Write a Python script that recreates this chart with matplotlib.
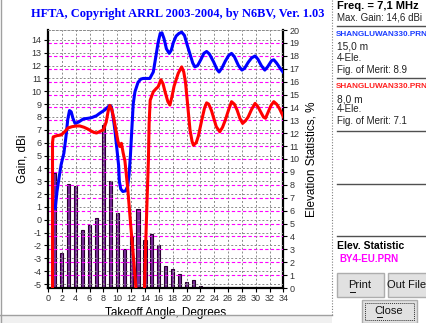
import matplotlib
matplotlib.use("Agg")
import matplotlib.pyplot as plt
from matplotlib.patches import Rectangle
from matplotlib.lines import Line2D

W, H = 427, 323

# elevation statistics, % of openings per takeoff degree
STAT_DEG = list(range(1, 24))
STAT_PCT = [8.9, 2.7, 8.1, 7.9, 4.5, 4.9, 5.4, 12.6, 8.3, 5.8, 3.0, 4.05,
            6.1, 3.7, 4.2, 3.3, 1.7, 1.45, 1.1, 0.45, 0.6, 0.15, 0.08]

# 15 m, 4-Ele. pattern (blue)
BLUE_DEG = [1.05, 1.3, 1.6, 1.9, 2.3, 2.6, 2.85, 3.1, 3.35, 3.6, 3.9, 4.4,
            5.1, 5.8, 6.3, 7.0, 7.5, 8.2, 8.9, 9.15, 9.4, 9.65, 9.95, 10.2,
            10.3, 10.5, 10.8, 11.2, 11.5, 11.7, 11.9, 12.1, 12.3, 12.55,
            13.0, 13.4, 13.75, 14.3, 14.7, 15.2, 15.6, 15.9, 16.2, 16.45,
            16.75, 17.1, 17.5, 17.8, 18.1, 18.5, 18.9, 19.3, 19.7, 20.1,
            20.5, 20.9, 21.2, 21.6, 22.1, 22.5, 22.9, 23.3, 23.9, 24.4,
            24.7, 25.1, 25.6, 26.1, 26.5, 26.9, 27.5, 28.0, 28.4, 28.9,
            29.4, 29.9, 30.3, 30.8, 31.3, 31.7, 32.3, 32.6, 33.0, 33.5, 34.0]
BLUE_GAIN = [0.9, 2.2, 3.3, 4.3, 5.2, 6.5, 7.8, 8.5, 8.4, 7.9, 7.5, 7.6,
             7.85, 7.9, 7.95, 8.1, 8.3, 8.55, 8.9, 8.8, 8.0, 7.0, 5.5, 4.2,
             3.0, 2.4, 2.2, 2.25, 2.6, 3.5, 5.0, 7.0, 9.0, 9.96,
             10.7, 10.95, 11.0, 11.0, 11.0, 11.5, 12.8, 13.8, 14.5, 14.55,
             14.1, 13.3, 12.95, 13.2, 13.8, 14.3, 14.5, 14.6, 14.35, 13.6,
             12.9, 12.2, 11.9, 12.0, 12.5, 12.95, 13.1, 12.9, 12.3, 11.7,
             11.5, 11.8, 12.35, 12.8, 12.95, 12.7, 12.0, 11.65, 11.8, 12.25,
             12.6, 12.75, 12.5, 12.0, 11.65, 11.9, 12.4, 12.45, 12.2, 11.8, 11.45]

# 8 m, 4-Ele. pattern (red)
RED_DEG = [0.65, 0.65, 0.75, 1.3, 1.9, 2.4, 2.9, 3.5, 4.1, 4.6, 5.2, 5.8,
           6.4, 7.0, 7.6, 8.0, 8.4, 8.7, 8.93, 9.2, 9.5, 9.8, 10.1, 10.35,
           10.6, 10.85, 11.1, 11.5, 12.0, 12.4, 12.8, 13.9, 14.1, 14.3,
           14.5, 14.6, 14.75, 15.2, 15.6, 15.9, 16.3, 16.6, 16.9, 17.3,
           17.6, 17.9, 18.2, 18.8, 19.3, 19.6, 19.85, 20.1, 20.5, 20.8,
           21.0, 21.4, 21.7, 22.2, 22.6, 22.9, 23.2, 23.6, 24.3, 24.8,
           25.2, 25.6, 26.1, 26.5, 26.9, 27.3, 27.7, 28.1, 28.5, 28.9,
           29.4, 29.9, 30.3, 30.7, 31.1, 31.4, 31.8, 32.2, 32.6, 33.0, 33.4, 34.0]
RED_GAIN = [-6.0, 6.0, 6.45, 6.55, 6.6, 6.85, 7.15, 7.25, 7.3, 7.3, 7.2, 7.05,
            6.85, 6.75, 6.9, 7.0, 7.6, 8.5, 8.9, 8.6, 7.9, 7.0, 6.1, 5.7,
            5.95, 5.2, 4.6, 2.5, -0.8, -3.3, -6.0, -6.0, -2.0, 1.5,
            4.7, 7.5, 9.3, 9.96, 10.2, 10.35, 10.9, 10.6, 9.96, 9.2,
            8.93, 9.6, 10.4, 11.4, 11.9, 11.5, 10.7, 9.3, 7.0, 6.1,
            5.8, 6.0, 6.5, 7.76, 8.7, 9.1, 9.0, 8.5, 7.24, 6.85,
            7.2, 7.76, 8.6, 9.19, 9.0, 8.54, 7.9, 7.5, 7.7, 8.0,
            8.6, 9.06, 8.8, 8.4, 8.0, 7.9, 8.4, 8.9, 9.19, 9.0, 8.67, 8.0]

X_TICKS = list(range(0, 35, 2))
GAIN_TICKS = list(range(-5, 15))
STAT_TICKS = list(range(0, 21))


def fx(x):
    return x / W


def fy(y):
    return 1 - y / H


plt.rcParams["font.family"] = ["Liberation Sans", "DejaVu Sans"]
plt.rcParams["axes.unicode_minus"] = False
fig = plt.figure(figsize=(W / 100, H / 100), dpi=100, facecolor="white")

# window chrome: gray strip at the bottom, left border, dotted separator
fig.patches.append(Rectangle((0, 0), fx(332), fy(315), transform=fig.transFigure,
                             facecolor="#f0f0f0", edgecolor="none", zorder=0))
fig.lines.append(Line2D([fx(1), fx(1)], [0, 1], transform=fig.transFigure,
                        color="#a0a0a0", lw=1))
fig.lines.append(Line2D([0, fx(332)], [fy(315), fy(315)], transform=fig.transFigure,
                        color="#a0a0a0", lw=1))
fig.lines.append(Line2D([fx(332), fx(332)], [fy(315), 1], transform=fig.transFigure,
                        color="#808080", lw=0.8, ls=(0, (1, 1.5))))

ax = fig.add_axes([fx(48), fy(288), fx(283.5) - fx(48), fy(30) - fy(288)])
ax2 = ax.twinx()
ax.set_zorder(ax2.get_zorder() + 1)
ax.patch.set_visible(False)

ax.set_xlim(0, 34)
ax.set_ylim(-5.31, 14.77)
ax2.set_ylim(0, 20)

# grids
dash = (0, (2, 2))
for v in GAIN_TICKS:
    ax.axhline(v, color="#8a8a8a", lw=0.7, ls=dash, zorder=1)
for x in X_TICKS[1:-1]:
    ax.axvline(x, color="#8a8a8a", lw=0.7, ls=dash, zorder=1)
for v in STAT_TICKS[1:-1]:
    ax2.axhline(v, color="#ff00ff", lw=0.8, ls=(0, (3, 2)), zorder=3)

ax2.bar(STAT_DEG, STAT_PCT, width=0.45, color="#7a2c9a", edgecolor="#2a0030",
        linewidth=0.8, zorder=2)

ax.plot(BLUE_DEG, BLUE_GAIN, color="#0000ff", lw=2.2, solid_joinstyle="round", zorder=3)
ax.plot(RED_DEG, RED_GAIN, color="#ff0000", lw=2.2, solid_joinstyle="round", zorder=3)

ax.set_xticks(X_TICKS)
ax.set_yticks(GAIN_TICKS)
ax2.set_yticks(STAT_TICKS)
for a in (ax, ax2):
    a.tick_params(labelsize=6.5, labelcolor="#333333", length=3, width=0.8, pad=1.5)

for s in ("left", "bottom"):
    ax.spines[s].set_linewidth(1.6)
ax.spines["right"].set_visible(False)
ax.spines["top"].set_color("#8a8a8a")
ax.spines["top"].set_linestyle(dash)
ax.spines["top"].set_linewidth(0.7)
ax2.spines["right"].set_linewidth(1.6)
for s in ("left", "top", "bottom"):
    ax2.spines[s].set_visible(False)

ax.set_xlabel("Takeoff Angle, Degrees", fontsize=8.5, labelpad=2.5)
ax.set_ylabel("Gain, dBi", fontsize=8.5, labelpad=2)
ax2.set_ylabel("Elevation Statistics, %", fontsize=8.5, labelpad=4)

fig.text(fx(178), fy(14.5), "HFTA, Copyright ARRL 2003-2004, by N6BV, Ver. 1.03",
         family="Liberation Serif", fontweight="bold", fontsize=8.9,
         color="#0000ff", ha="center", va="center")


# side panel
def panel(y, s, **kw):
    fig.text(fx(kw.pop("x", 337)), fy(y), s, va="center", ha="left", **kw)


panel(6, "Freq. = 7,1 MHz", fontsize=8, fontweight="bold")
panel(18, "Max. Gain: 14,6 dBi", fontsize=7, color="#222222")
panel(34, "SHANGLUWAN330.PRN", fontsize=5.9, fontweight="bold", color="#1a3cff", x=336)
panel(46.5, "15,0 m", fontsize=7.3, color="#222222")
panel(58, "4-Ele.", fontsize=7, color="#222222")
panel(70, "Fig. of Merit: 8.9", fontsize=7, color="#222222")
panel(87, "SHANGLUWAN330.PRN", fontsize=5.9, fontweight="bold", color="#ff2020", x=336)
panel(99, "8,0 m", fontsize=7.3, color="#222222")
panel(109, "4-Ele.", fontsize=7, color="#222222")
panel(121, "Fig. of Merit: 7.1", fontsize=7, color="#222222")
panel(246, "Elev. Statistic", fontsize=7.5, fontweight="bold")
panel(259.5, "BY4-EU.PRN", fontsize=7, fontweight="bold", color="#ff00ff", x=339)

for y in (26, 78, 131, 184, 236):
    fig.lines.append(Line2D([fx(337), 1], [fy(y), fy(y)], transform=fig.transFigure,
                            color="#505050", lw=1.0))


# buttons
def button(x0, y0, x1, y1, label, cx, focus=False):
    fig.patches.append(Rectangle((fx(x0), fy(y1)), fx(x1) - fx(x0), fy(y0) - fy(y1),
                                 transform=fig.transFigure, facecolor="#e1e1e1",
                                 edgecolor="#adadad", lw=1))
    if focus:
        fig.patches.append(Rectangle((fx(x0 + 3), fy(y1 - 3)), fx(x1 - 3) - fx(x0 + 3),
                                     fy(y0 + 3) - fy(y1 - 3), transform=fig.transFigure,
                                     facecolor="none", edgecolor="#333333", lw=0.7,
                                     ls=(0, (1, 1))))
    fig.text(fx(cx), fy((y0 + y1) / 2), label, fontsize=8, ha="center", va="center",
             color="#111111")


button(337, 273, 384, 297, "Print", 360)
button(388, 273, 430, 297, "Out File", 407)
button(362, 300, 417, 323, "Close", 389, focus=True)
fig.lines.append(Line2D([fx(350.5), fx(355.5)], [fy(292), fy(292)],
                        transform=fig.transFigure, color="#111111", lw=0.7))
fig.lines.append(Line2D([fx(377), fx(382.5)], [fy(317), fy(317)],
                        transform=fig.transFigure, color="#111111", lw=0.7))

fig.savefig("out.png", dpi=100, facecolor=fig.get_facecolor())
